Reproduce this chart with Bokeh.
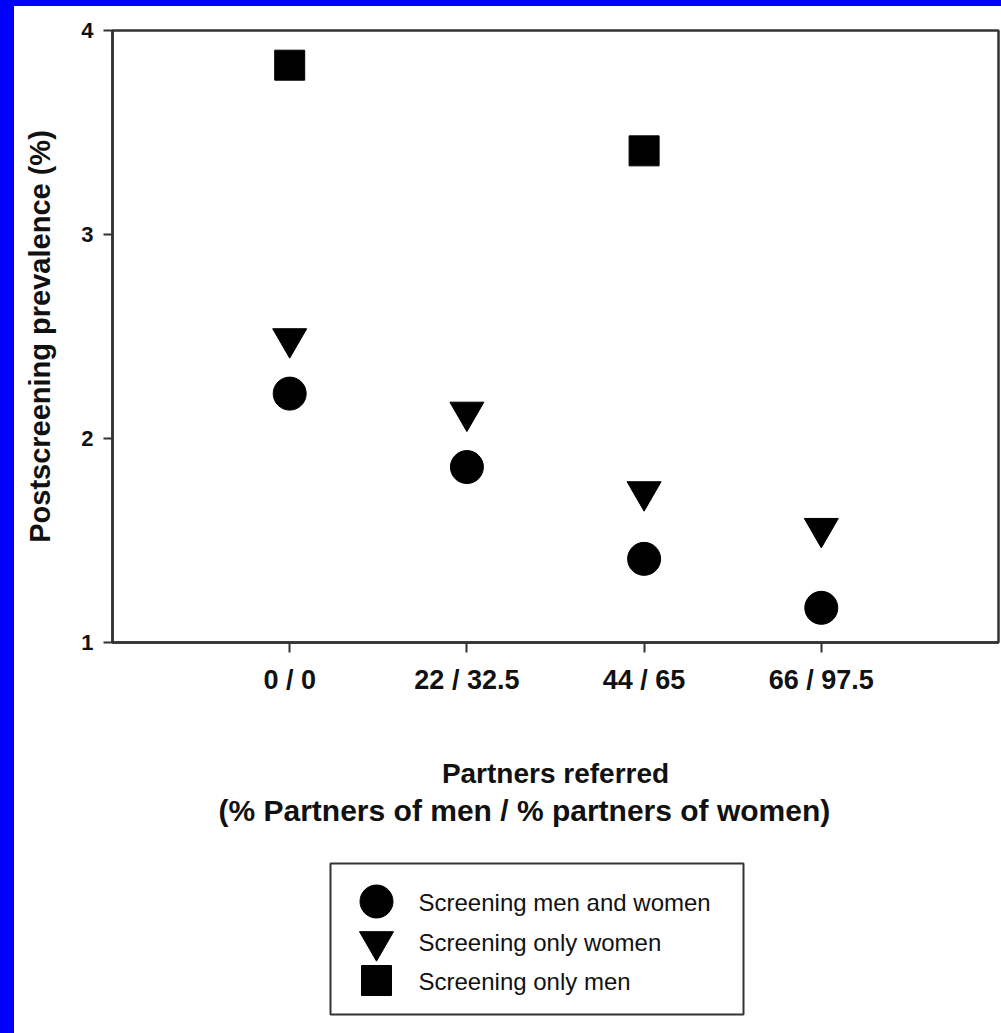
from bokeh.plotting import figure
from bokeh.models import Range1d, FixedTicker, Div, Title
from bokeh.layouts import column
from bokeh.core.properties import value
from bokeh.embed import file_html
from bokeh.resources import INLINE

# ---- data ----
categories = ["0 / 0", "22 / 32.5", "44 / 65", "66 / 97.5"]
x_pos = [1, 2, 3, 4]
screening_both = [2.22, 1.86, 1.41, 1.17]
screening_only_women = [2.49, 2.13, 1.74, 1.56]
screening_only_men = [3.83, float("nan"), 3.41, float("nan")]
y_ticks = [1, 2, 3, 4]

legend_labels = ["Screening men and women", "Screening only women", "Screening only men"]
legend_markers = ["circle", "inverted_triangle", "square"]

FONT = "Liberation Sans"
INK = "#111111"
LINE = "#333333"
SIZES = {"circle": 33, "inverted_triangle": 34, "square": 30}

# ---- main plot ----
p = figure(width=1001, height=842, output_backend="svg", toolbar_location=None,
           x_range=Range1d(0, 5), y_range=Range1d(1, 4),
           min_border_left=112, min_border_right=3, min_border_top=30,
           min_border_bottom=200)
p.grid.visible = False
p.background_fill_color = "white"
p.border_fill_color = "white"
p.outline_line_color = LINE
p.outline_line_width = 2.5

p.scatter(x_pos, screening_both, marker="circle", size=SIZES["circle"],
          fill_color="black", line_color="black")
p.scatter(x_pos, screening_only_women, marker="inverted_triangle",
          size=SIZES["inverted_triangle"], fill_color="black", line_color="black")
p.scatter(x_pos, screening_only_men, marker="square", size=SIZES["square"],
          fill_color="black", line_color="black")

for ax in (p.xaxis[0], p.yaxis[0]):
    ax.axis_line_color = LINE
    ax.axis_line_width = 2.5
    ax.major_tick_line_color = LINE
    ax.major_tick_line_width = 2
    ax.major_tick_in = 0
    ax.minor_tick_line_color = None
    ax.major_label_text_font = FONT
    ax.major_label_text_font_style = "bold"
    ax.major_label_text_color = INK
    ax.axis_label_text_font = FONT
    ax.axis_label_text_font_style = "bold"
    ax.axis_label_text_color = INK

p.xaxis.ticker = FixedTicker(ticks=x_pos)
p.xaxis.major_label_overrides = {x: c for x, c in zip(x_pos, categories)}
p.xaxis.major_tick_out = 10
p.xaxis.major_label_standoff = 12
p.xaxis.major_label_text_font_size = "27px"
p.xaxis.axis_label = "Partners referred"
p.xaxis.axis_label_text_font_size = "28px"
p.xaxis.axis_label_standoff = 60

sub = Title(text="(% Partners of men / % partners of women)", align="left",
            text_font=FONT, text_font_style="bold", text_font_size="30px",
            text_color=INK, standoff=0, offset=106)
p.add_layout(sub, "below")

p.yaxis.ticker = FixedTicker(ticks=y_ticks)
p.yaxis.major_tick_out = 9
p.yaxis.major_label_standoff = 10
p.yaxis.major_label_text_font_size = "22px"
p.yaxis.axis_label = "Postscreening prevalence (%)"
p.yaxis.axis_label_text_font_size = "29px"
p.yaxis.axis_label_standoff = 22

# ---- legend panel (its own small figure, x in page pixels: frame aligned with p) ----
lf = figure(width=1001, height=183, output_backend="svg", toolbar_location=None,
            x_range=Range1d(112, 998), y_range=Range1d(183, 0),
            x_axis_type=None, y_axis_type=None,
            min_border_left=0, min_border_right=0, min_border_top=0, min_border_bottom=0)
lf.grid.visible = False
lf.outline_line_color = None
lf.border_fill_color = "white"
lf.background_fill_color = "white"

lf.quad(left=[330], right=[743], top=[21], bottom=[172],
        fill_color=None, line_color=LINE, line_width=2)
row_y = [59, 99, 138]
for yy, mk, lab in zip(row_y, legend_markers, legend_labels):
    lf.scatter([376], [yy], marker=mk, size=SIZES[mk],
               fill_color="black", line_color="black")
    lf.text([418], [yy + 1], text=[lab], text_font=value(FONT),
            text_font_size="24px", text_baseline="middle", text_align="left",
            text_color=INK)

strip = Div(text='<div style="position:fixed;left:0;top:0;width:14px;height:1033px;background:#0000ff"></div>'
                 '<div style="position:fixed;left:0;top:0;width:1001px;height:6px;background:#0000ff"></div>',
            width=0, height=0)

layout = column(p, lf, strip)
open("out.html", "w").write(file_html(layout, INLINE))
